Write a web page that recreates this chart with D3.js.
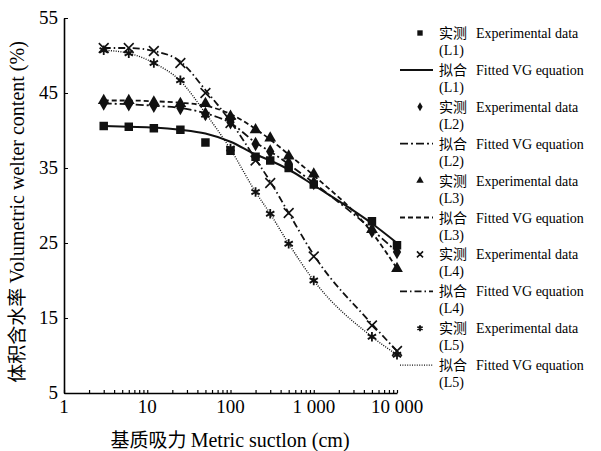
<!DOCTYPE html>
<html>
<head>
<meta charset="utf-8">
<script src="https://cdn.jsdelivr.net/npm/d3@7/dist/d3.min.js"></script>
<style>
	body { margin: 0; background: #fff; }
	svg { display: block; }
	.serif { font-family: "Liberation Serif", "DejaVu Serif", serif; }
	.cjk { font-family: "Noto Sans CJK SC", sans-serif; }
</style>
</head>
<body>
<script>
// suction values (cm)
var suction = [3, 6, 12, 25, 50, 100, 200, 300, 500, 1000, 5000, 10000];

// measured water content (%)
var measL1 = [40.6, 40.5, 40.3, 40.1, 38.4, 37.3, 36.5, 36.0, 35.0, 32.8, 27.9, 24.7];
var measL2 = [43.6, 43.5, 43.3, 43.0, 42.2, 41.1, 38.2, 37.2, 35.6, 33.0, 26.6, 23.8];
var measL3 = [44.0, 44.0, 43.8, 43.6, 43.6, 41.9, 40.1, 39.0, 36.6, 34.2, 26.8, 21.6];
var measL4 = [51.0, 51.0, 50.6, 49.0, 45.0, 41.0, 36.0, 33.0, 29.0, 23.2, 14.0, 10.6];
var measL5 = [50.7, 50.3, 49.0, 46.7, 42.1, 37.6, 31.8, 28.9, 24.9, 20.0, 12.5, 10.1];

// fitted VG curves (%)
var fitL1 = [40.6, 40.5, 40.4, 40.1, 39.6, 38.5, 36.8, 36.0, 34.8, 32.7, 27.6, 25.0];
var fitL2 = [43.6, 43.5, 43.3, 43.0, 42.3, 41.0, 38.4, 37.2, 35.5, 33.0, 26.8, 23.8];
var fitL3 = [44.0, 44.0, 43.9, 43.7, 43.3, 42.2, 40.2, 38.8, 36.8, 34.0, 26.4, 21.6];
var fitL4 = [51.0, 51.0, 50.6, 49.2, 45.4, 41.2, 36.2, 33.2, 29.0, 23.4, 14.2, 10.6];
var fitL5 = [50.7, 50.3, 49.0, 46.6, 42.3, 37.5, 31.8, 28.9, 24.9, 20.0, 12.5, 10.1];

var xTicks = [1, 10, 100, 1000, 10000];
var yTicks = [5, 15, 25, 35, 45, 55];
var seriesNames = ['L1', 'L2', 'L3', 'L4', 'L5'];

var width = 601, height = 451;
var svg = d3.select('body').append('svg').attr('width', width).attr('height', height);

var x = d3.scaleLog().domain([1, 10000]).range([64, 397]);
var y = d3.scaleLinear().domain([5, 55]).range([393, 18]);

var fmt = d3.formatLocale({ decimal: '.', thousands: ' ', grouping: [3], currency: ['', ''] }).format(',d');

// x axis with minor ticks inward
var minor = [];
for (var p = 0; p < 4; p++) {
	for (var k = 1; k < 10; k++) minor.push(k * Math.pow(10, p));
}
minor.push(10000);
var xAxisEl = svg.append('g').attr('transform', 'translate(0,393)')
	.call(d3.axisBottom(x).tickValues(minor).tickSizeInner(-3).tickSizeOuter(0).tickFormat(''));
xAxisEl.select('.domain').attr('stroke-width', 1.6);
xAxisEl.selectAll('.tick line').attr('stroke-width', 1.2);

svg.append('g').selectAll('text').data(xTicks).enter().append('text')
	.attr('class', 'serif').attr('x', function (d) { return x(d); }).attr('y', 413)
	.attr('text-anchor', 'middle').attr('font-size', 19).text(function (d) { return fmt(d); });

// y axis
var yAxisEl = svg.append('g').attr('transform', 'translate(64,0)')
	.call(d3.axisLeft(y).tickValues(yTicks).tickSizeInner(-4).tickSizeOuter(0).tickFormat(''));
yAxisEl.select('.domain').attr('stroke-width', 1.6);
svg.append('g').selectAll('text').data(yTicks).enter().append('text')
	.attr('class', 'serif').attr('x', 58).attr('y', function (d) { return y(d) + 6; })
	.attr('text-anchor', 'end').attr('font-size', 19).text(function (d) { return d; });

// axis titles
var xt = svg.append('text').attr('x', 230).attr('y', 447).attr('text-anchor', 'middle').attr('font-size', 20);
xt.append('tspan').attr('class', 'cjk').attr('font-size', 19).text('基质吸力 ');
xt.append('tspan').attr('class', 'serif').text('Metric suctlon (cm)');

var yt = svg.append('text').attr('transform', 'translate(24,212) rotate(-90)').attr('text-anchor', 'middle').attr('font-size', 20);
yt.append('tspan').attr('class', 'cjk').attr('font-size', 19).text('体积含水率 ');
yt.append('tspan').attr('class', 'serif').text('Volumetric welter content (%)');

// styles per series
var dashes = [null, '8,3,2,3', '5,3', '7,3,1.5,3', '1,1.4'];
var widths = [2, 1.8, 1.8, 1.8, 1.4];
var fits = [fitL1, fitL2, fitL3, fitL4, fitL5];
var meas = [measL1, measL2, measL3, measL4, measL5];

var line = d3.line().curve(d3.curveMonotoneX)
	.x(function (d) { return x(d[0]); })
	.y(function (d) { return y(d[1]); });

var plot = svg.append('g');
fits.forEach(function (f, i) {
	plot.append('path')
		.datum(suction.map(function (s, j) { return [s, f[j]]; }))
		.attr('fill', 'none').attr('stroke', '#111').attr('stroke-width', widths[i])
		.attr('stroke-dasharray', dashes[i]).attr('d', line);
});

function drawMarker(g, i, cx, cy, scale) {
	var s = scale || 1;
	var m;
	if (i === 0) {
		m = g.append('path').attr('d', d3.symbol(d3.symbolSquare, 72 * s)()).attr('fill', '#111');
	} else if (i === 1) {
		m = g.append('path').attr('d', d3.symbol(d3.symbolDiamond, 60 * s)()).attr('fill', '#111');
	} else if (i === 2) {
		m = g.append('path').attr('d', d3.symbol(d3.symbolTriangle, 60 * s)()).attr('fill', '#111');
	} else if (i === 3) {
		m = g.append('path').attr('d', d3.symbol(d3.symbolTimes, 64 * s)()).attr('fill', 'none')
			.attr('stroke', '#111').attr('stroke-width', 1.6);
	} else {
		m = g.append('path').attr('d', d3.symbol(d3.symbolAsterisk, 64 * s)()).attr('fill', 'none')
			.attr('stroke', '#111').attr('stroke-width', 1.8);
	}
	m.attr('transform', 'translate(' + cx + ',' + cy + ')');
}

meas.forEach(function (m, i) {
	var g = plot.append('g');
	suction.forEach(function (s, j) {
		drawMarker(g, i, x(s), y(m[j]), 1);
	});
});

// legend
var legend = svg.append('g');
for (var e = 0; e < 10; e++) {
	var si = Math.floor(e / 2);
	var cy = 33 + e * 36.9;
	if (e % 2 === 0) {
		drawMarker(legend, si, 420, cy, 0.4);
	} else {
		legend.append('line').attr('x1', 400).attr('x2', 433).attr('y1', cy).attr('y2', cy)
			.attr('stroke', '#111').attr('stroke-width', widths[si]).attr('stroke-dasharray', dashes[si]);
	}
	var t = legend.append('text').attr('x', 439).attr('y', cy + 5).attr('font-size', 14);
	t.append('tspan').attr('class', 'cjk').text(e % 2 === 0 ? '实测' : '拟合');
	t.append('tspan').attr('class', 'serif').attr('x', 476).text(e % 2 === 0 ? 'Experimental data' : 'Fitted VG equation');
	legend.append('text').attr('class', 'serif').attr('x', 439).attr('y', cy + 22).attr('font-size', 14)
		.text('(' + seriesNames[si] + ')');
}
</script>
</body>
</html>
